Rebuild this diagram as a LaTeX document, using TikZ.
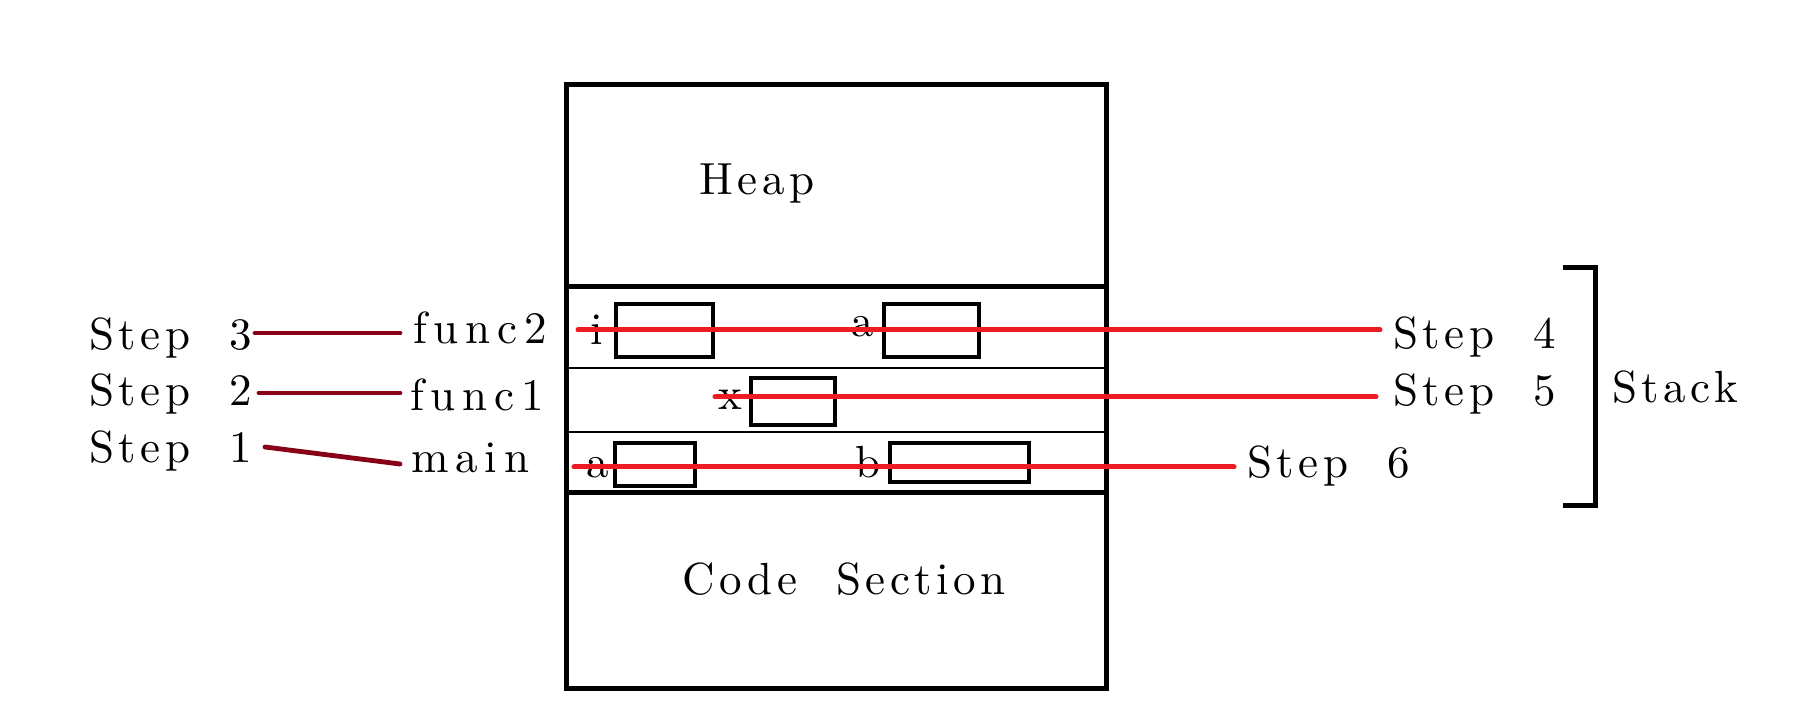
\documentclass[tikz,border=0pt]{standalone}
\usepackage{fontspec}
\newfontfamily\spacedfont[LetterSpace=10]{lmroman10-regular.otf}
\newfontfamily\widefont[LetterSpace=15]{lmroman10-regular.otf}
\usetikzlibrary{calc}
\definecolor{pred}{HTML}{ED1C24}
\definecolor{pdark}{HTML}{880015}
\begin{document}
\begin{tikzpicture}[x=0.5pt,y=-0.5pt,
  lbl/.style={inner sep=0pt, anchor=base west, font=\spacedfont\fontsize{22.5}{27}\selectfont},
  funclbl/.style={lbl, font=\widefont\fontsize{22.5}{27}\selectfont},
  outerline/.style={line width=2.5pt, black},
  varbox/.style={line width=2pt, black},
  thinsep/.style={line width=0.6pt, black},
  redline/.style={line width=2.5pt, pred, line cap=round},
  darkline/.style={line width=2.4pt, pdark, line cap=round}]
\useasboundingbox (0,0) rectangle (1798,726);
% memory layout
\draw[outerline] (566,85) rectangle (1106,688);
\draw[outerline] (566,287) -- (1106,287);
\draw[outerline] (566,493) -- (1106,493);
\draw[thinsep] (566,368) -- (1106,368);
\draw[thinsep] (566,432) -- (1106,432);
\node[lbl] (heap) at (699,195) {Heap};
\node[lbl] (code) at (682,595) {Code~~Section};
% variable boxes
\draw[varbox] (616,304) rectangle (713,357);
\draw[varbox] (884,304) rectangle (979,357);
\draw[varbox] (751,378) rectangle (835,425);
\draw[varbox] (615,443) rectangle (695,486);
\draw[varbox] (890,443) rectangle (1029,482);
\node[lbl] (vi) at (590,345) {i};
\node[lbl] (va1) at (851,337) {a};
\node[lbl] (vx) at (718,410) {x};
\node[lbl] (va2) at (586,478) {a};
\node[lbl] (vb) at (855,478) {b};
% left labels
\node[lbl] (s3) at (89,350) {Step~~3};
\node[lbl] (s2) at (89,406) {Step~~2};
\node[lbl] (s1) at (89,463) {Step~~1};
\node[funclbl] (f2) at (413,344) {func2};
\node[funclbl] (f1) at (410,411) {func1};
\node[funclbl] (fm) at (411,473) {main};
\draw[darkline] ($(s3.base west)+(166,-17)$) -- ($(f2.base west)+(-13,-11)$);
\draw[darkline] ($(s2.base west)+(170,-13)$) -- ($(f1.base west)+(-10,-18)$);
\draw[darkline] ($(s1.base west)+(176,-16)$) -- ($(fm.base west)+(-11,-9)$);
% right labels
\node[lbl] (s4) at (1393,349) {Step~~4};
\node[lbl] (s5) at (1393,406) {Step~~5};
\node[lbl] (s6) at (1247,478) {Step~~6};
\node[lbl] (stack) at (1612,403) {Stack};
\draw[outerline] (1563,268) -- (1595,268) -- (1595,506) -- (1563,506);
% red lines
\coordinate (r1) at (578,330);
\coordinate (r2) at (715,397);
\coordinate (r3) at (574,467);
\draw[redline] (r1) -- ($(s4.base west)+(-13,-19)$);
\draw[redline] (r2) -- ($(s5.base west)+(-17,-9)$);
\draw[redline] (r3) -- ($(s6.base west)+(-13,-11)$);
\end{tikzpicture}
\end{document}
